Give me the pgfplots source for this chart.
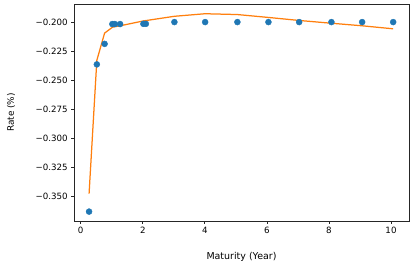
\documentclass[border=0pt]{standalone}
\usepackage{pgfplots}
\pgfplotsset{compat=1.18}
\usepackage{fontspec}
\setmainfont{DejaVu Sans}
\definecolor{c0}{HTML}{1F77B4}
\definecolor{c1}{HTML}{FF7F0E}
\begin{document}
\begin{tikzpicture}
\begin{axis}[name=ax, scale only axis, width=335bp, height=217bp,
  xmin=-0.216, xmax=10.58, ymin=-0.3716, ymax=-0.1844,
  xtick={0,2,4,6,8,10},
  ytick={-0.35,-0.325,-0.3,-0.275,-0.25,-0.225,-0.2},
  yticklabels={−0.350,−0.325,−0.300,−0.275,−0.250,−0.225,−0.200},
  tick align=outside, tick pos=left, major tick length=2.9bp,
  axis line style={line width=0.67bp, draw=black!85},
  every tick/.style={black!85, line width=0.67bp},
  ticklabel style={font=\fontsize{8.7}{10}\selectfont},
  /pgf/number format/assume math mode=true,
  xlabel={Maturity (Year)}, ylabel={Rate (\%)},
  xlabel style={font=\fontsize{9.5}{11}\selectfont, at={(axis description cs:0.5,-0.166)}, anchor=center},
  ylabel style={font=\fontsize{9}{11}\selectfont, at={(axis description cs:-0.188,0.5)}, anchor=center},
]
\addplot[only marks, mark=*, mark size=3bp, draw=c0, fill=c0, mark options={draw=c0, fill=c0}] coordinates {
(0.27,-0.3635) (0.52,-0.2365) (0.77,-0.2188) (1.02,-0.2017) (1.10,-0.2017) (1.27,-0.2017)
(2.02,-0.2015) (2.10,-0.2015) (3.02,-0.2000) (4.01,-0.2000) (5.05,-0.2000) (6.05,-0.2000)
(7.04,-0.2000) (8.08,-0.2000) (9.07,-0.2000) (10.07,-0.2000)
};
\addplot[c1, line width=1.25bp, no marks] coordinates {
(0.27,-0.348) (0.52,-0.233) (0.77,-0.2095) (1.02,-0.2045) (1.10,-0.2040) (1.27,-0.2032)
(2.02,-0.1990) (2.10,-0.1987) (3.02,-0.1950) (4.01,-0.1928) (5.05,-0.1935) (6.05,-0.1960)
(7.04,-0.1986) (8.08,-0.2010) (9.07,-0.2032) (10.07,-0.2058)
};
\end{axis}
\pgfresetboundingbox
\path ([xshift=-74bp,yshift=-43bp]ax.south west) rectangle ([xshift=4bp,yshift=4bp]ax.north east);
\end{tikzpicture}
\end{document}
